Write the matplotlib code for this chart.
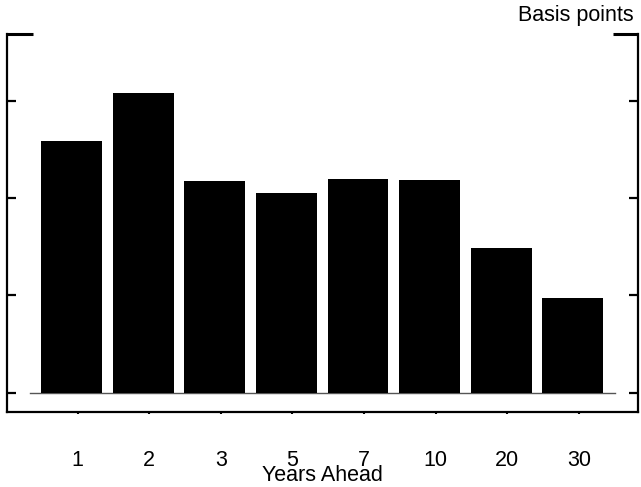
import matplotlib
matplotlib.use("Agg")
import matplotlib.pyplot as plt

plt.rcParams['font.family'] = ['Liberation Sans', 'DejaVu Sans']

# values (scale in tick units x 10, axis has no labels)
years = ["1", "2", "3", "5", "7", "10", "20", "30"]
spread = [25.9, 30.8, 21.7, 20.5, 21.9, 21.8, 14.9, 9.7]
yticks = [0, 10, 20, 30]

fig = plt.figure(figsize=(6.41, 4.87), dpi=100)
ax = fig.add_axes([6.5/641, 1 - 412/487, (638 - 6.5)/641, (412 - 33.5)/487])

pos = list(range(len(years)))
ax.bar(pos, spread, width=0.85, color='black', zorder=3)
ax.plot([-0.58, 7.59], [0, 0], color='#555555', lw=1.0, zorder=2)

ax.set_xlim(-0.908, 7.91)
ax.set_ylim(-2.0, 36.9)

# frame: left/right/bottom spines, top only as short corner pieces
ax.spines['top'].set_visible(False)
for s in ['left', 'right', 'bottom']:
    ax.spines[s].set_linewidth(1.6)
ax.plot([0, 26/631.5], [1, 1], transform=ax.transAxes, color='black',
        lw=2.2, clip_on=False, solid_capstyle='butt')
ax.plot([1 - 25/631.5, 1], [1, 1], transform=ax.transAxes, color='black',
        lw=2.2, clip_on=False, solid_capstyle='butt')

ax.set_yticks(yticks)
ax.set_yticklabels([])
ax.tick_params(axis='y', which='both', direction='in', length=6.5, width=1.6,
               left=True, right=True)

ax.set_xticks([p + 0.084 for p in pos])
ax.set_xticklabels(years, fontsize=15.5)
ax.tick_params(axis='x', direction='out', length=1.5, width=1.5, pad=26)
ax.set_xlabel("Years Ahead", fontsize=15.5, labelpad=-4.5)

fig.text(634/641, 1 - 21/487, "Basis points", ha='right', va='baseline',
         fontsize=15.5)

fig.savefig("out.png", dpi=100)
